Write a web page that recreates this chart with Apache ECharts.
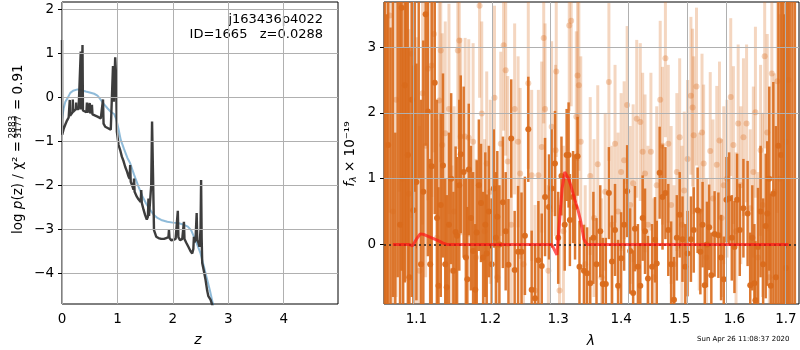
<!DOCTYPE html>
<html>
<head>
<meta charset="utf-8">
<script src="https://cdn.jsdelivr.net/npm/echarts@6/dist/echarts.min.js"></script>
<style>
  html, body { margin: 0; background: #fff; }
  #chart { width: 800px; height: 350px; }
</style>
</head>
<body>
<div id="chart"></div>
<script>
// left panel: log p(z) (black) and chi2 curve (blue)
var pzZ = [0.000,0.004,0.03,0.06,0.09,0.12,0.135,0.14,0.145,0.17,
  0.19,0.195,0.20,0.23,0.25,0.255,0.26,0.30,0.33,0.338,
  0.345,0.36,0.37,0.378,0.40,0.44,0.45,0.46,0.49,0.50,
  0.51,0.53,0.54,0.55,0.58,0.64,0.70,0.73,0.74,0.75,
  0.78,0.84,0.88,0.90,0.92,0.935,0.96,0.975,0.99,1.00,
  1.02,1.05,1.08,1.11,1.14,1.17,1.20,1.22,1.23,1.24,
  1.27,1.29,1.30,1.31,1.35,1.38,1.40,1.42,1.43,1.44,
  1.47,1.50,1.53,1.55,1.56,1.57,1.60,1.61,1.625,1.64,
  1.66,1.70,1.74,1.79,1.84,1.88,1.92,1.93,1.94,1.97,
  2.01,2.05,2.08,2.09,2.10,2.13,2.17,2.19,2.20,2.21,
  2.24,2.28,2.32,2.35,2.37,2.38,2.39,2.41,2.43,2.44,
  2.46,2.48,2.50,2.51,2.52,2.53,2.56,2.59,2.62,2.64,
  2.66,2.68,2.70,2.73];
var pzLog = [1.30,-0.85,-0.72,-0.62,-0.53,-0.46,-0.43,-0.06,-0.42,-0.38,
  -0.34,-0.05,-0.33,-0.29,-0.27,-0.12,-0.27,-0.27,-0.27,1.04,
  -0.28,-0.29,1.19,-0.30,-0.32,-0.34,-0.12,-0.35,-0.36,-0.13,
  -0.37,-0.38,-0.17,-0.39,-0.41,-0.44,-0.48,-0.52,-0.05,-0.60,
  -0.67,-0.71,-0.74,-0.74,0.71,-0.10,0.91,0.50,-0.78,-0.78,
  -1.08,-1.20,-1.35,-1.45,-1.58,-1.68,-1.80,-1.85,-1.54,-1.92,
  -2.02,-2.10,-1.85,-2.15,-2.26,-2.32,-2.35,-2.38,-2.11,-2.40,
  -2.55,-2.68,-2.78,-2.72,-2.30,-2.70,-2.72,-2.00,-0.55,-1.60,
  -3.02,-3.17,-3.20,-3.22,-3.22,-3.20,-3.18,-3.02,-3.20,-3.25,
  -3.24,-3.22,-3.20,-2.58,-3.18,-3.25,-3.22,-3.20,-2.83,-3.22,
  -3.30,-3.40,-3.50,-3.55,-3.45,-3.17,-3.30,-3.22,-2.63,-3.25,
  -3.30,-3.40,-3.00,-1.88,-3.20,-3.77,-3.95,-4.15,-4.40,-4.52,
  -4.56,-4.60,-4.68,-4.80];
var chiZ = [0.00,0.03,0.06,0.10,0.15,0.20,0.28,0.35,0.43,0.50,
  0.58,0.64,0.70,0.76,0.82,0.88,0.94,0.98,1.02,1.06,
  1.12,1.18,1.23,1.30,1.38,1.45,1.52,1.59,1.66,1.73,
  1.79,1.90,2.00,2.09,2.20,2.27,2.33,2.38,2.44,2.50,
  2.56,2.62,2.67,2.72,2.75];
var chiLog = [-0.50,-0.25,-0.10,-0.02,0.10,0.15,0.18,0.16,0.13,0.11,
  0.08,0.04,-0.06,-0.16,-0.25,-0.33,-0.38,-0.50,-0.72,-0.97,
  -1.18,-1.38,-1.50,-1.76,-2.03,-2.25,-2.42,-2.56,-2.68,-2.75,
  -2.79,-2.83,-2.85,-2.86,-2.90,-2.94,-3.02,-3.17,-3.35,-3.55,
  -3.85,-4.15,-4.40,-4.68,-4.80];
var zTicks = [0, 1, 2, 3, 4];
var pzTicks = [-4, -3, -2, -1, 0, 1, 2];

// right panel: spectrum, two sets of points with errors, and the model
var darkLam = [1.060,1.062,1.064,1.067,1.070,1.073,1.076,1.079,1.081,1.083,
  1.085,1.087,1.089,1.091,1.094,1.096,1.098,1.100,1.103,1.106,
  1.109,1.112,1.115,1.118,1.120,1.124,1.127,1.129,1.132,1.135,
  1.138,1.140,1.143,1.146,1.149,1.152,1.154,1.157,1.159,1.163,
  1.166,1.168,1.170,1.173,1.176,1.179,1.181,1.184,1.187,1.190,
  1.193,1.195,1.198,1.202,1.205,1.208,1.210,1.213,1.218,1.222,
  1.226,1.230,1.235,1.240,1.245,1.250,1.255,1.260,1.265,1.270,
  1.275,1.280,1.286,1.290,1.295,1.300,1.305,1.310,1.313,1.316,
  1.318,1.323,1.326,1.330,1.333,1.340,1.345,1.350,1.355,1.360,
  1.366,1.370,1.375,1.380,1.385,1.390,1.395,1.400,1.405,1.410,
  1.415,1.420,1.423,1.428,1.432,1.436,1.440,1.445,1.452,1.457,
  1.460,1.465,1.470,1.475,1.480,1.485,1.490,1.495,1.500,1.505,
  1.510,1.514,1.520,1.525,1.532,1.537,1.541,1.545,1.549,1.553,
  1.557,1.563,1.570,1.575,1.580,1.585,1.590,1.595,1.600,1.605,
  1.610,1.617,1.625,1.630,1.634,1.638,1.640,1.645,1.650,1.655,
  1.660,1.663,1.667,1.670,1.675,1.680,1.685,1.690,1.694,1.697,
  1.700,1.704,1.708,1.713,1.718];
var darkFlux = [4.5,-1.5,1.51,-1.2,4.2,-1.3,4.5,0.3,3.6,-1.0,
  2.42,4.0,1.36,-0.5,2.2,0.52,3.8,0.95,4.0,-0.3,
  0.8,3.5,2.02,-0.3,1.19,2.46,0.4,-0.63,0.6,1.2,
  -0.3,-0.65,0.3,1.0,-0.4,0.19,0.13,0.9,1.37,1.10,
  -0.2,-0.53,1.14,0.4,-0.1,-0.69,0.18,0.9,0.63,-0.2,
  0.3,-0.14,0.5,-0.3,0.85,0.1,0.42,0.0,0.64,0.2,
  -0.31,1.61,-0.39,-0.11,-0.11,0.13,1.75,-0.69,-0.82,-0.24,
  -0.33,0.72,0.57,0.85,1.23,0.10,1.04,0.3,1.36,1.36,
  0.37,0.72,0.57,1.34,-0.34,-0.40,-0.44,-0.59,0.1,-0.3,
  0.2,-0.6,-0.60,0.78,-0.26,0.22,-0.63,-0.21,0.3,0.81,
  -0.1,-0.74,0.24,-0.34,-0.63,0.4,0.20,-0.52,-0.34,0.07,
  -0.29,1.09,0.72,0.78,0.22,-0.3,-0.84,0.1,0.45,0.08,
  -0.34,-0.14,0.08,0.22,0.52,-0.11,0.3,-0.62,0.0,0.26,
  -0.47,0.16,0.14,-0.2,-0.53,0.68,0.70,0.1,-0.04,0.68,
  0.22,0.55,0.47,-0.62,0.1,-0.59,-0.85,-0.04,0.5,-0.3,
  0.28,0.47,1.0,-0.63,0.77,-0.5,1.5,1.36,4.5,-1.5,
  -0.36,4.5,-2.0,4.5,-2.0];
var darkErr = [6,5,4,4.5,5,3,5,4,4,4,
  3,4,3,3.5,3,2.2,3,1.8,3,2.5,
  2.3,2,2.2,1.6,2.5,2,1.8,1.5,1.4,1.4,
  1.3,1.4,1.4,1.3,1.2,1.3,1.2,1.3,1.2,1.3,
  1.2,1.1,1.0,1.1,1.2,1.0,1.1,1.0,0.9,1.0,
  1.1,0.9,1.0,1.0,0.9,1.0,1.0,0.9,1.0,0.9,
  1.0,0.9,0.9,1.0,0.9,0.9,0.8,0.9,0.8,0.9,
  0.8,0.9,0.8,0.9,0.8,0.7,0.6,0.7,0.7,0.8,
  0.7,0.7,0.8,0.6,0.7,0.7,0.7,0.7,0.7,0.7,
  0.7,0.7,0.7,0.7,0.7,0.7,0.7,0.7,0.7,0.7,
  0.65,0.65,0.65,0.65,0.65,0.65,0.65,0.65,0.65,0.65,
  0.65,0.7,0.8,0.7,0.7,0.65,0.65,0.65,0.65,0.65,
  0.65,0.65,0.65,0.65,0.65,0.65,0.65,0.65,0.65,0.65,
  0.65,0.65,0.65,0.65,0.65,0.65,0.7,0.65,0.7,0.7,
  0.7,0.75,0.8,0.8,0.8,0.9,0.9,0.9,1.0,1.0,
  1.1,1.1,1.4,1.4,1.7,2.3,3,4,6,5,
  6,6,6,6,6];

var lightLam = [1.062,1.066,1.070,1.074,1.078,1.082,1.086,1.090,1.094,1.100,
  1.104,1.108,1.112,1.115,1.120,1.123,1.127,1.130,1.132,1.134,
  1.138,1.143,1.147,1.150,1.155,1.157,1.159,1.165,1.170,1.176,
  1.180,1.185,1.188,1.192,1.195,1.200,1.206,1.210,1.215,1.219,
  1.222,1.225,1.230,1.235,1.240,1.243,1.248,1.255,1.260,1.265,
  1.270,1.275,1.278,1.280,1.285,1.290,1.296,1.297,1.302,1.308,
  1.317,1.320,1.328,1.330,1.332,1.335,1.342,1.350,1.356,1.362,
  1.368,1.374,1.380,1.385,1.390,1.395,1.400,1.405,1.410,1.415,
  1.420,1.426,1.432,1.436,1.440,1.445,1.450,1.455,1.460,1.466,
  1.470,1.475,1.480,1.485,1.490,1.495,1.500,1.504,1.508,1.514,
  1.520,1.523,1.525,1.530,1.535,1.540,1.543,1.548,1.555,1.560,
  1.567,1.572,1.576,1.580,1.586,1.593,1.598,1.603,1.607,1.612,
  1.617,1.623,1.630,1.636,1.640,1.645,1.650,1.654,1.658,1.663,
  1.667,1.672,1.677,1.683,1.688,1.694,1.700,1.705];
var lightFlux = [2.0,3.48,0.5,2.2,3.8,1.0,1.94,0.77,2.9,0.95,
  -0.4,2.3,1.5,2.67,2.72,3.2,0.1,2.19,2.95,1.51,
  1.69,2.06,-0.4,0.5,2.95,3.1,1.64,1.64,1.62,1.56,
  -0.2,3.63,1.99,0.2,1.23,0.8,2.23,-0.5,1.53,3.03,
  2.65,1.26,0.3,2.06,1.56,1.08,-0.3,2.45,1.05,-0.7,
  1.05,1.48,3.14,2.06,-0.4,1.79,1.43,2.63,-0.7,0.2,
  3.33,3.40,1.94,2.57,2.42,1.56,-0.3,1.04,0.4,1.22,
  -0.5,0.8,2.47,0.3,1.53,0.5,1.1,1.28,2.12,0.6,
  0.93,1.91,1.86,1.41,1.08,0.3,1.41,-0.5,0.9,2.2,
  1.5,2.83,1.53,0.6,-0.3,1.1,1.63,0.3,0.82,1.3,
  2.26,2.08,1.66,2.40,0.5,1.70,1.23,-0.2,1.42,0.7,
  1.21,1.58,0.4,0.90,1.0,2.24,1.51,0.2,1.84,0.9,
  1.63,1.84,0.55,1.1,2.01,-0.2,1.43,0.6,2.86,1.70,
  -0.5,2.60,0.8,2.48,1.0,3.0,1.56,2.5];
var lightErr = [4,3,4,3,3,3,2.5,2.5,2.5,2.2,
  2.2,2,2,2,2,1.8,1.8,1.8,1.7,1.7,
  1.7,1.6,1.6,1.6,1.5,1.5,1.5,1.5,1.5,1.5,
  1.5,1.4,1.4,1.4,1.4,1.4,1.4,1.4,1.4,1.3,
  1.3,1.3,1.3,1.3,1.3,1.3,1.3,1.3,1.3,1.3,
  1.3,1.3,1.3,1.3,1.3,1.3,1.3,1.3,1.3,1.3,
  1.3,1.3,1.3,1.3,1.3,1.3,1.2,1.2,1.2,1.2,
  1.2,1.2,1.2,1.2,1.2,1.2,1.2,1.2,1.2,1.2,
  1.2,1.2,1.2,1.2,1.2,1.2,1.2,1.2,1.2,1.2,
  1.2,1.2,1.2,1.2,1.2,1.2,1.2,1.2,1.2,1.2,
  1.2,1.2,1.2,1.2,1.2,1.2,1.2,1.2,1.2,1.2,
  1.2,1.2,1.2,1.2,1.2,1.2,1.2,1.2,1.2,1.2,
  1.2,1.2,1.2,1.3,1.3,1.3,1.3,1.4,1.4,1.5,
  1.5,1.6,1.8,2,2.5,3,3,4];

var modelLam = [1.070,1.090,1.095,1.100,1.105,1.110,1.120,1.130,1.135,1.140,
  1.290,1.298,1.302,1.306,1.310,1.313,1.316,1.320,1.325,1.330,
  1.335,1.340,1.345,1.350,1.705];
var modelFlux = [0,0,-0.02,0.08,0.16,0.15,0.10,0.05,0.02,0,
  0,-0.16,0.35,0.85,1.10,1.13,1.00,0.88,0.70,0.55,
  0.35,0.08,0,0,0];
var lamTicks = [1.1, 1.2, 1.3, 1.4, 1.5, 1.6, 1.7];
var fluxTicks = [0, 1, 2, 3];

var FONT = 'DejaVu Sans';
var ORANGE = '#d96a1b';
var GRIDC = '#b0b0b0';

function lg(v) { return Math.log10(v); }
function minus(v) { return String(v).replace('-', '\u2212'); }

// vertical error bars, clipped to the plot box
function errBars(lam, flux, err, opacity, width, z) {
  return {
    type: 'custom', xAxisIndex: 1, yAxisIndex: 1, z: z, silent: true,
    data: lam.map(function (l, i) { return [lg(l), flux[i], err[i]]; }),
    encode: { x: 0, y: 1 },
    renderItem: function (params, api) {
      var x = api.value(0), y = api.value(1), e = api.value(2);
      var p1 = api.coord([x, y - e]), p2 = api.coord([x, y + e]);
      var cs = params.coordSys;
      var top = Math.max(Math.min(p1[1], p2[1]), cs.y);
      var bot = Math.min(Math.max(p1[1], p2[1]), cs.y + cs.height);
      if (bot <= top) return;
      return {
        type: 'line',
        shape: { x1: p1[0], y1: top, x2: p1[0], y2: bot },
        style: { stroke: ORANGE, lineWidth: width, opacity: opacity }
      };
    }
  };
}

function gridLines(xi, xs, ys, z) {
  return {
    type: 'line', xAxisIndex: xi, yAxisIndex: xi, data: [], z: z, silent: true,
    markLine: {
      silent: true, symbol: ['none', 'none'], animation: false,
      label: { show: false },
      lineStyle: { color: GRIDC, width: 1, type: 'solid', opacity: 1 },
      data: xs.map(function (v) { return { xAxis: v }; })
        .concat(ys.map(function (v) { return { yAxis: v }; }))
    }
  };
}

function axisBase(vals, fmt) {
  return {
    axisLine: { show: false },
    axisTick: { show: true, inside: false, length: 4, customValues: vals, lineStyle: { color: '#000', width: 1 } },
    axisLabel: { customValues: vals, formatter: fmt, color: '#000', fontSize: 13.5, fontFamily: FONT, margin: 8 },
    splitLine: { show: false }
  };
}

var chart = echarts.init(document.getElementById('chart'), null, { renderer: 'canvas' });

var option = {
  animation: false,
  backgroundColor: '#fff',
  grid: [
    { left: 62, top: 2, width: 276, height: 302, show: true, borderColor: '#000', borderWidth: 1, backgroundColor: 'transparent' },
    { left: 384, top: 2, width: 415, height: 302, show: true, borderColor: '#000', borderWidth: 1, backgroundColor: 'transparent' }
  ],
  xAxis: [
    Object.assign({ type: 'value', gridIndex: 0, min: 0, max: 4.98 }, axisBase(zTicks, function (v) { return minus(v); })),
    Object.assign({ type: 'value', gridIndex: 1, min: lg(1.0588), max: lg(1.7264) },
      axisBase(lamTicks.map(lg), function (v) { return Math.pow(10, v).toFixed(1); }))
  ],
  yAxis: [
    Object.assign({ type: 'value', gridIndex: 0, min: -4.70, max: 2.166 }, axisBase(pzTicks, function (v) { return minus(v); })),
    Object.assign({ type: 'value', gridIndex: 1, min: -0.906, max: 3.686 }, axisBase(fluxTicks, function (v) { return minus(v); }))
  ],
  series: [
    gridLines(0, zTicks, pzTicks, 1),
    {
      type: 'line', xAxisIndex: 0, yAxisIndex: 0, z: 2, symbol: 'none', clip: true,
      data: chiZ.map(function (z, i) { return [z, chiLog[i]]; }),
      lineStyle: { color: 'rgba(31,119,180,0.5)', width: 2 }
    },
    {
      type: 'line', xAxisIndex: 0, yAxisIndex: 0, z: 3, symbol: 'none', clip: true,
      data: pzZ.map(function (z, i) { return [z, pzLog[i]]; }),
      lineStyle: { color: '#333333', width: 2.4, opacity: 0.95 }
    },
    errBars(lightLam, lightFlux, lightErr, 0.28, 3, 2),
    {
      type: 'scatter', xAxisIndex: 1, yAxisIndex: 1, z: 2, clip: true, symbolSize: 6,
      data: lightLam.map(function (l, i) { return [lg(l), lightFlux[i]]; }),
      itemStyle: { color: ORANGE, opacity: 0.3 }
    },
    errBars(darkLam, darkFlux, darkErr, 0.9, 2.5, 3),
    {
      type: 'scatter', xAxisIndex: 1, yAxisIndex: 1, z: 3, clip: true, symbolSize: 6,
      data: darkLam.map(function (l, i) { return [lg(l), darkFlux[i]]; }),
      itemStyle: { color: ORANGE, opacity: 0.95 }
    },
    gridLines(1, lamTicks.map(lg), fluxTicks.slice(1), 4),
    {
      type: 'line', xAxisIndex: 1, yAxisIndex: 1, z: 5, symbol: 'none', clip: true, data: [],
      markLine: {
        silent: true, symbol: ['none', 'none'], animation: false, label: { show: false },
        lineStyle: { color: '#222', width: 1.5, type: [2, 3] },
        data: [{ yAxis: 0 }]
      }
    },
    {
      type: 'line', xAxisIndex: 1, yAxisIndex: 1, z: 6, symbol: 'none', clip: true,
      data: modelLam.map(function (l, i) { return [lg(l), modelFlux[i]]; }),
      lineStyle: { color: 'rgba(255,20,20,0.7)', width: 3 }
    }
  ],
  graphic: [
    { type: 'text', x: 323, y: 20, style: { text: 'j163436p4022', font: '13px "DejaVu Sans"', fill: '#000', align: 'right', verticalAlign: 'middle' } },
    { type: 'text', x: 323, y: 35, style: { text: 'ID=1665   z=0.0288', font: '13px "DejaVu Sans"', fill: '#000', align: 'right', verticalAlign: 'middle' } },
    { type: 'text', x: 198, y: 340, style: { text: 'z', font: 'italic 14px "DejaVu Sans"', fill: '#000', align: 'center', verticalAlign: 'middle' } },
    { type: 'text', x: 591, y: 341, style: { text: '\u03bb', font: 'italic 14px "DejaVu Sans"', fill: '#000', align: 'center', verticalAlign: 'middle' } },
    { type: 'text', x: 697, y: 339, style: { text: 'Sun Apr 26 11:08:37 2020', font: '7px "DejaVu Sans"', fill: '#000', align: 'left', verticalAlign: 'middle' } },
    // left y label: log p(z) / chi2 = 2883/3177 = 0.91
    { type: 'text', x: 18, y: 141, rotation: Math.PI / 2, style: {
        text: 'log {it|p}(z) / \u03c7\u00b2 =', font: '13.5px "DejaVu Sans"', fill: '#000', align: 'right', verticalAlign: 'middle',
        rich: { it: { fontStyle: 'italic', fontSize: 13.5, fontFamily: FONT } } } },
    { type: 'text', x: 12.5, y: 127, rotation: Math.PI / 2, style: { text: '2883', font: '9px "DejaVu Sans"', fill: '#000', align: 'center', verticalAlign: 'middle' } },
    { type: 'text', x: 19, y: 127, rotation: Math.PI / 2, style: { text: '3177', font: '9px "DejaVu Sans"', fill: '#000', align: 'center', verticalAlign: 'middle' } },
    { type: 'line', shape: { x1: 15.8, y1: 116, x2: 15.8, y2: 138 }, style: { stroke: '#000', lineWidth: 0.8 } },
    { type: 'text', x: 18, y: 110, rotation: Math.PI / 2, style: { text: '= 0.91', font: '13.5px "DejaVu Sans"', fill: '#000', align: 'left', verticalAlign: 'middle' } },
    // right y label
    { type: 'text', x: 350, y: 154, rotation: Math.PI / 2, style: {
        text: '{it|f}{sub|\u03bb} \u00d7 10\u207b\u00b9\u2079', font: '13.5px "DejaVu Sans"', fill: '#000', align: 'center', verticalAlign: 'middle',
        rich: { it: { fontStyle: 'italic', fontSize: 13.5, fontFamily: FONT }, sub: { fontStyle: 'italic', fontSize: 9.5, fontFamily: FONT, padding: [7, 0, 0, 0] } } } }
  ]
};

chart.setOption(option);
window.addEventListener('resize', function () { chart.resize(); });
</script>
</body>
</html>
